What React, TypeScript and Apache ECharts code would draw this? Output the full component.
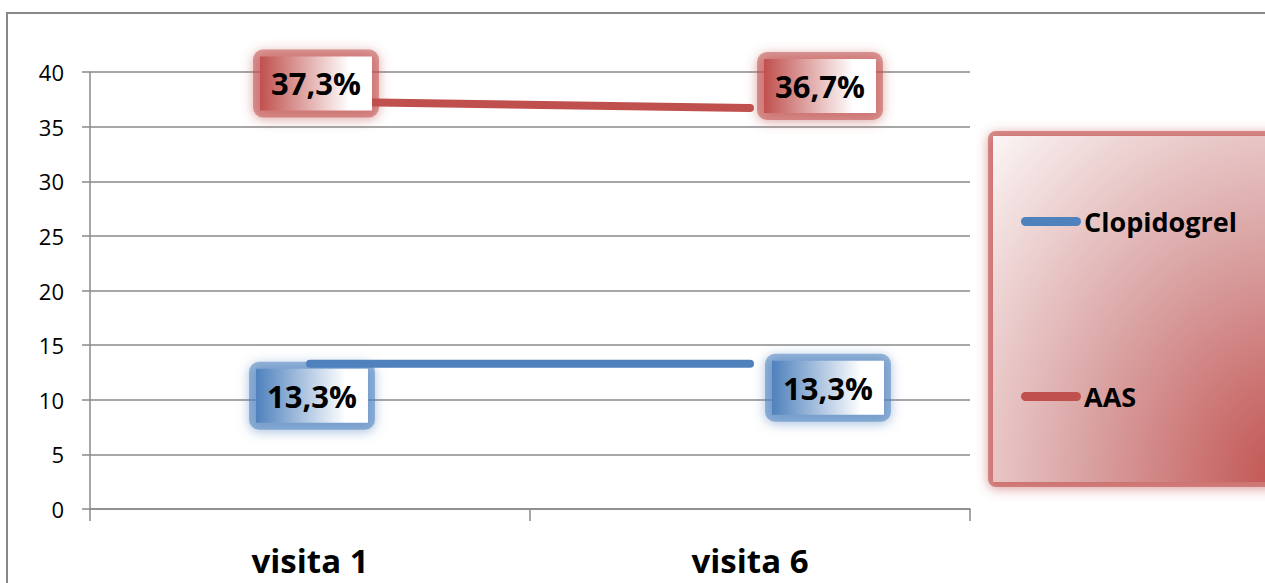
import React, { useEffect, useRef } from "react";
import * as echarts from "echarts";

const categories = ["visita 1", "visita 6"];
const clopidogrel = [13.3, 13.3];
const aas = [37.3, 36.7];
const yTicks = { min: 0, max: 40, interval: 5 };

const RED = "#C0504D";
const BLUE = "#4F81BD";
const GRID = "#8a8a8a";
const FONT = "'Open Sans', 'Noto Sans', sans-serif";

// label offsets relative to each data point
const aasOffsets = [[6, -18], [70, -22]];
const clopiOffsets = [[2, 32], [78, 24]];

const fmt = (p: any) =>
  "{v|" + Number(p.value).toFixed(1).replace(".", ",") + "%}";

// outer box = soft coloured halo, inner rich token = gradient card with the value
function labelStyle(color: string, rgb: string) {
  return {
    show: true,
    position: "inside",
    formatter: fmt,
    padding: 7,
    borderRadius: 10,
    backgroundColor: `rgba(${rgb},0.55)`,
    shadowBlur: 12,
    shadowColor: `rgba(${rgb},0.9)`,
    shadowOffsetY: 2,
    rich: {
      v: {
        fontFamily: FONT,
        fontWeight: "bold",
        fontSize: 31,
        lineHeight: 54,
        height: 54,
        color: "#000",
        padding: [0, 11],
        backgroundColor: new echarts.graphic.LinearGradient(0, 0, 1, 0, [
          { offset: 0, color },
          { offset: 0.8, color: "#ffffff" },
          { offset: 1, color: "#ffffff" },
        ]),
      },
    },
  };
}

function buildData(values: number[], offsets: number[][]) {
  return values.map((v, i) => ({ value: v, label: { offset: offsets[i] } }));
}

export default function App() {
  const ref = useRef<HTMLDivElement>(null);

  useEffect(() => {
    if (!ref.current) return;
    const chart = echarts.init(ref.current, null, { renderer: "svg" });
    const capsule =
      "path://M4.5,0 H55.5 A4.5,4.5 0 0 1 55.5,9 H4.5 A4.5,4.5 0 0 1 4.5,0 Z";
    chart.setOption({
      animation: false,
      backgroundColor: "#ffffff",
      graphic: [
        {
          type: "rect",
          z: 0,
          shape: { x: 7, y: 13, width: 1320, height: 640 },
          style: { fill: "none", stroke: "#888888", lineWidth: 2 },
        },
        {
          // halo behind the legend card
          type: "rect",
          z: 1,
          shape: { x: 988, y: 131, width: 320, height: 356, r: 8 },
          style: {
            fill: "rgba(192,80,77,0.6)",
            shadowBlur: 12,
            shadowColor: "rgba(192,80,77,0.9)",
            shadowOffsetY: 2,
          },
        },
        {
          type: "rect",
          z: 2,
          shape: { x: 993, y: 136, width: 300, height: 346 },
          style: {
            fill: new echarts.graphic.RadialGradient(1, 1, 1.5, [
              { offset: 0, color: RED },
              { offset: 0.45, color: "#d9a0a0" },
              { offset: 1, color: "#ffffff" },
            ]),
          },
        },
      ],
      grid: { left: 90, top: 72, right: 295, bottom: 74 },
      legend: {
        orient: "vertical",
        left: 1021,
        top: 208,
        padding: 0,
        itemGap: 148,
        itemWidth: 60,
        itemHeight: 9,
        icon: capsule,
        z: 10,
        textStyle: {
          fontFamily: FONT,
          fontWeight: "bold",
          fontSize: 27,
          color: "#000",
          padding: [0, 0, 0, -2],
        },
        data: ["Clopidogrel", "AAS"],
      },
      xAxis: {
        type: "category",
        data: categories,
        boundaryGap: true,
        axisLine: { show: true, lineStyle: { color: GRID, width: 1.5 } },
        axisTick: { show: true, length: 12, lineStyle: { color: GRID, width: 1.5 } },
        axisLabel: {
          margin: 37,
          fontFamily: FONT,
          fontWeight: "bold",
          fontSize: 33,
          lineHeight: 28,
          color: "#000",
        },
      },
      yAxis: {
        type: "value",
        min: yTicks.min,
        max: yTicks.max,
        interval: yTicks.interval,
        axisLine: { show: true, lineStyle: { color: GRID, width: 1.5 } },
        axisTick: { show: true, length: 8, lineStyle: { color: GRID, width: 1.5 } },
        splitLine: { show: true, lineStyle: { color: GRID, width: 1.5 } },
        axisLabel: { margin: 26, fontFamily: FONT, fontSize: 22, color: "#000" },
      },
      series: [
        {
          name: "Clopidogrel",
          type: "line",
          data: buildData(clopidogrel, clopiOffsets),
          symbol: "circle",
          symbolSize: 0.1,
          showSymbol: true,
          color: BLUE,
          lineStyle: { color: BLUE, width: 8, cap: "round" },
          label: labelStyle(BLUE, "79,129,189"),
          z: 3,
        },
        {
          name: "AAS",
          type: "line",
          data: buildData(aas, aasOffsets),
          symbol: "circle",
          symbolSize: 0.1,
          showSymbol: true,
          color: RED,
          lineStyle: { color: RED, width: 8, cap: "round" },
          label: labelStyle(RED, "192,80,77"),
          z: 3,
        },
      ],
    });
    return () => chart.dispose();
  }, []);

  return (
    <div
      ref={ref}
      style={{ position: "fixed", left: 0, top: 0, width: 1265, height: 583 }}
    />
  );
}
